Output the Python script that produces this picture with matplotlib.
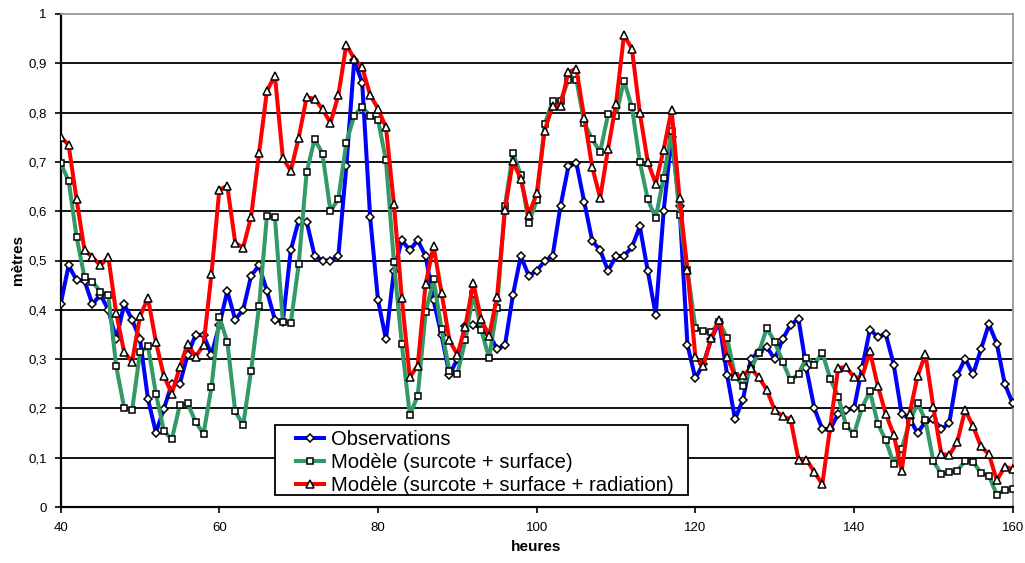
import matplotlib
matplotlib.use("Agg")
import matplotlib.pyplot as plt
from matplotlib.patches import Rectangle

plt.rcParams['font.family'] = ['Liberation Sans', 'DejaVu Sans']

hours = list(range(39, 162))

observations = [0.39,
    0.412, 0.49, 0.46, 0.459, 0.411, 0.431, 0.40, 0.34, 0.411, 0.38,
    0.34, 0.219, 0.151, 0.199, 0.249, 0.249, 0.309, 0.349, 0.349, 0.309,
    0.369, 0.438, 0.38, 0.40, 0.469, 0.49, 0.438, 0.38, 0.376, 0.521,
    0.581, 0.579, 0.51, 0.50, 0.50, 0.509, 0.691, 0.906, 0.861, 0.589,
    0.419, 0.34, 0.479, 0.541, 0.521, 0.541, 0.509, 0.419, 0.349, 0.268,
    0.30, 0.368, 0.37, 0.365, 0.35, 0.321, 0.328, 0.43, 0.509, 0.469,
    0.479, 0.499, 0.509, 0.61, 0.691, 0.698, 0.618, 0.54, 0.521, 0.479,
    0.509, 0.509, 0.527, 0.569, 0.479, 0.39, 0.60, 0.751, 0.61, 0.329,
    0.261, 0.29, 0.34, 0.375, 0.268, 0.178, 0.218, 0.30, 0.315, 0.325,
    0.30, 0.34, 0.37, 0.381, 0.281, 0.20, 0.158, 0.158, 0.189, 0.197,
    0.20, 0.281, 0.36, 0.345, 0.351, 0.289, 0.189, 0.18, 0.15, 0.173,
    0.179, 0.158, 0.17, 0.267, 0.301, 0.269, 0.32, 0.371, 0.331, 0.25,
    0.21, 0.18]

modele_surface = [0.68,
    0.697, 0.662, 0.548, 0.466, 0.457, 0.437, 0.43, 0.285, 0.201, 0.196,
    0.314, 0.326, 0.23, 0.155, 0.137, 0.206, 0.21, 0.173, 0.148, 0.243,
    0.385, 0.335, 0.194, 0.166, 0.276, 0.407, 0.591, 0.588, 0.376, 0.373,
    0.492, 0.679, 0.746, 0.717, 0.60, 0.625, 0.739, 0.794, 0.811, 0.794,
    0.785, 0.703, 0.497, 0.33, 0.187, 0.225, 0.395, 0.462, 0.361, 0.276,
    0.27, 0.338, 0.433, 0.36, 0.302, 0.404, 0.611, 0.719, 0.673, 0.576,
    0.622, 0.776, 0.823, 0.823, 0.866, 0.867, 0.779, 0.746, 0.72, 0.797,
    0.794, 0.865, 0.811, 0.70, 0.624, 0.586, 0.668, 0.763, 0.593, 0.48,
    0.364, 0.356, 0.354, 0.376, 0.343, 0.266, 0.246, 0.28, 0.313, 0.363,
    0.335, 0.295, 0.257, 0.27, 0.303, 0.289, 0.313, 0.26, 0.224, 0.165,
    0.148, 0.201, 0.235, 0.169, 0.135, 0.088, 0.118, 0.172, 0.211, 0.176,
    0.093, 0.067, 0.07, 0.074, 0.093, 0.092, 0.069, 0.063, 0.025, 0.035,
    0.037, 0.06]

modele_radiation = [0.73,
    0.751, 0.734, 0.624, 0.521, 0.507, 0.49, 0.507, 0.393, 0.314, 0.295,
    0.387, 0.424, 0.335, 0.266, 0.23, 0.283, 0.331, 0.305, 0.328, 0.472,
    0.644, 0.651, 0.536, 0.526, 0.589, 0.718, 0.844, 0.875, 0.708, 0.682,
    0.749, 0.831, 0.828, 0.807, 0.779, 0.835, 0.938, 0.909, 0.892, 0.836,
    0.808, 0.77, 0.615, 0.423, 0.263, 0.287, 0.453, 0.529, 0.435, 0.338,
    0.309, 0.366, 0.454, 0.381, 0.347, 0.426, 0.603, 0.701, 0.665, 0.593,
    0.636, 0.763, 0.814, 0.814, 0.882, 0.889, 0.789, 0.689, 0.627, 0.727,
    0.818, 0.957, 0.93, 0.799, 0.70, 0.656, 0.725, 0.806, 0.627, 0.481,
    0.304, 0.287, 0.342, 0.38, 0.304, 0.266, 0.267, 0.281, 0.263, 0.238,
    0.196, 0.184, 0.178, 0.096, 0.096, 0.071, 0.046, 0.163, 0.282, 0.284,
    0.263, 0.263, 0.316, 0.245, 0.189, 0.147, 0.073, 0.189, 0.265, 0.31,
    0.202, 0.108, 0.105, 0.131, 0.197, 0.164, 0.123, 0.107, 0.054, 0.082,
    0.077, 0.12]

labels = ["Observations",
          "Modèle (surcote + surface)",
          "Modèle (surcote + surface + radiation)"]
colors = ["#0000ff", "#339966", "#ff0000"]
markers = ["D", "s", "^"]
msizes = [4.5, 4.5, 6.0]

xticks = [40, 60, 80, 100, 120, 140, 160]
yticks = [0, 0.1, 0.2, 0.3, 0.4, 0.5, 0.6, 0.7, 0.8, 0.9, 1]
ytick_labels = ["0", "0,1", "0,2", "0,3", "0,4", "0,5", "0,6", "0,7", "0,8", "0,9", "1"]

W, H = 1025, 563
L, R, T, B = 60.7, 1012.7, 14, 507
fig = plt.figure(figsize=(W / 100, H / 100), dpi=100)
ax = fig.add_axes([L / W, 1 - B / H, (R - L) / W, (B - T) / H])

for yv in yticks[1:-1]:
    ax.axhline(yv, color="black", lw=1.3, zorder=1)

series = [observations, modele_surface, modele_radiation]
for vals, lab, col, mk, ms in zip(series, labels, colors, markers, msizes):
    ax.plot(hours, vals, color=col, lw=2.9, marker=mk, markersize=ms,
            markerfacecolor="white", markeredgecolor="black",
            markeredgewidth=1.1, solid_joinstyle="round", label=lab, zorder=3)

ax.set_xlim(40, 160)
ax.set_ylim(0, 1)
ax.set_xticks(xticks)
ax.set_yticks(yticks)
ax.set_yticklabels(ytick_labels)
ax.tick_params(axis="both", direction="out", length=4, width=1.2,
               labelsize=9.5, colors="black")
ax.tick_params(axis="x", pad=7)
ax.tick_params(axis="y", pad=6)

for side in ["left", "bottom"]:
    ax.spines[side].set_color("black")
    ax.spines[side].set_linewidth(1.6)
for side in ["top", "right"]:
    ax.spines[side].set_color("#999999")
    ax.spines[side].set_linewidth(1.3)


def ax_x(px):
    return (px - L) / (R - L)


def ax_y(py):
    return (B - py) / (B - T)


ax.set_xlabel("heures", fontsize=11, fontweight="bold")
ax.set_ylabel("mètres", fontsize=11, fontweight="bold")
ax.xaxis.set_label_coords(ax_x(536), ax_y(547))
ax.yaxis.set_label_coords(ax_x(18), ax_y(260))
ax.xaxis.label.set_va("center")
ax.yaxis.label.set_va("center")

# legend frame (drawn separately to match the reference padding)
frame = Rectangle((ax_x(275), ax_y(495)), ax_x(688) - ax_x(275),
                  ax_y(425) - ax_y(495), transform=ax.transAxes,
                  facecolor="white", edgecolor="black", lw=1.3, zorder=5)
ax.add_patch(frame)

leg = ax.legend(loc="center left", bbox_to_anchor=(ax_x(296), ax_y(462.5)),
                fontsize=14.6, frameon=False, borderaxespad=0, borderpad=0,
                labelspacing=0.2, handlelength=1.4, handletextpad=0.35)
leg.set_zorder(6)

fig.savefig("out.png", dpi=100)
